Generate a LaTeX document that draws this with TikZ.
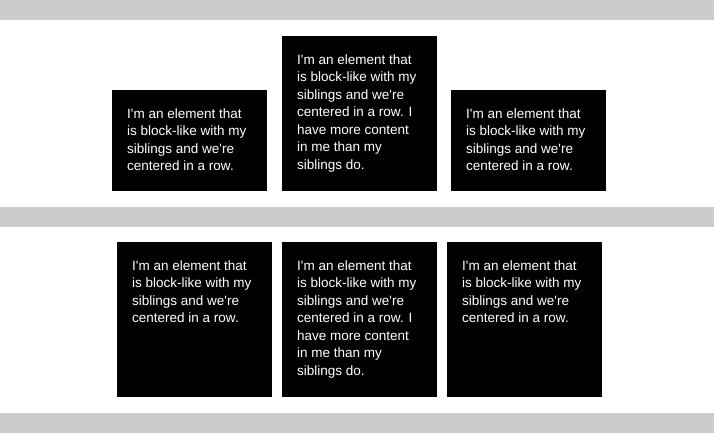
\documentclass[tikz,border=0pt]{standalone}
\usepackage{fontspec}
\setmainfont{Liberation Sans}[Ligatures=TeXOff]
\usetikzlibrary{positioning}
\definecolor{bargray}{HTML}{CCCCCC}

\begin{document}
\begin{tikzpicture}[x=1pt,y=-1pt]
\tikzset{
  block/.style={fill=black,draw=none,anchor=north west,minimum width=155pt,inner sep=0pt},
  blocktext/.style={anchor=north west,inner sep=0pt,text=white,align=left,
    font=\fontsize{13.5}{17.5}\selectfont}
}
\useasboundingbox (0,0) rectangle (714,433);
% gray bars
\fill[bargray] (0,0) rectangle (714,20);
\fill[bargray] (0,207) rectangle (714,227);
\fill[bargray] (0,413) rectangle (714,433);
% top row, centered
\node[block,minimum height=101pt] (b_top_l) at (112,90) {};
\node[block,minimum height=155pt] (b_top_m) at (282,36) {};
\node[block,minimum height=101pt] (b_top_r) at (451,90) {};
\node[blocktext,below right=18.5pt and 15pt of b_top_l.north west] (t_top_l)
  {I'm an element that\\is block-like with my\\siblings and we're\\centered in a row.};
\node[blocktext,below right=18.5pt and 15pt of b_top_m.north west] (t_top_m)
  {I'm an element that\\is block-like with my\\siblings and we're\\centered in a row. I\\have more content\\in me than my\\siblings do.};
\node[blocktext,below right=18.5pt and 15pt of b_top_r.north west] (t_top_r)
  {I'm an element that\\is block-like with my\\siblings and we're\\centered in a row.};
% bottom row, stretched
\node[block,minimum height=155pt] (b_bot_l) at (117,242) {};
\node[block,minimum height=155pt] (b_bot_m) at (282,242) {};
\node[block,minimum height=155pt] (b_bot_r) at (447,242) {};
\node[blocktext,below right=18.5pt and 15pt of b_bot_l.north west] (t_bot_l)
  {I'm an element that\\is block-like with my\\siblings and we're\\centered in a row.};
\node[blocktext,below right=18.5pt and 15pt of b_bot_m.north west] (t_bot_m)
  {I'm an element that\\is block-like with my\\siblings and we're\\centered in a row. I\\have more content\\in me than my\\siblings do.};
\node[blocktext,below right=18.5pt and 15pt of b_bot_r.north west] (t_bot_r)
  {I'm an element that\\is block-like with my\\siblings and we're\\centered in a row.};
\end{tikzpicture}
\end{document}
